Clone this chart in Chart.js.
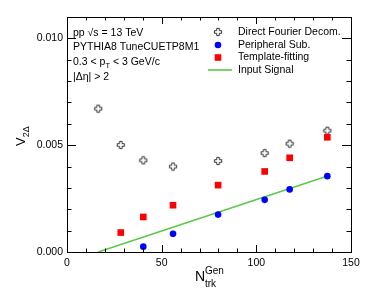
<!DOCTYPE html>
<html>
<head>
<meta charset="utf-8">
<script src="https://cdn.jsdelivr.net/npm/chart.js@4/dist/chart.umd.min.js"></script>
<style>
  html, body { margin: 0; padding: 0; background: #fff; }
  #wrap { width: 374px; height: 297px; }
</style>
</head>
<body>
<div id="wrap"><canvas id="c" width="374" height="297"></canvas></div>
<script>
// values
const nTrkDirect = [16.5, 28.4, 40.3, 56, 79.8, 104.4, 117.6, 137.5];
const v2Direct = [0.00671, 0.00501, 0.00429, 0.00400, 0.00426, 0.00463, 0.00507, 0.00568];
const nTrkPeriph = [40.3, 56, 79.8, 104.4, 117.6, 137.5];
const v2Periph = [0.00025, 0.00085, 0.00175, 0.00244, 0.00293, 0.00355];
const nTrkTemplate = [28.4, 40.3, 56, 79.8, 104.4, 117.6, 137.5];
const v2Template = [0.00091, 0.00164, 0.00219, 0.00313, 0.00377, 0.00441, 0.00537];
const nTrkInput = [16.5, 138];
const v2Input = [0.0, 0.00357];
const xTicks = [0, 50, 100, 150];
const yTicks = [0, 0.005, 0.010];
const legendLabels = ['Direct Fourier Decom.', 'Peripheral Sub.', 'Template-fitting', 'Input Signal'];

const FONT = "'Liberation Sans', Arial, Helvetica, sans-serif";

function toPoints(xs, ys) {
    return xs.map((x, i) => ({ x: x, y: ys[i] }));
}

function makeOpenCross() {
    const c = document.createElement('canvas');
    c.width = 10;
    c.height = 10;
    const g = c.getContext('2d');
    const m = 5, a = 1.3, l = 3.6;
    g.beginPath();
    g.moveTo(m - a, m - l);
    g.lineTo(m + a, m - l);
    g.lineTo(m + a, m - a);
    g.lineTo(m + l, m - a);
    g.lineTo(m + l, m + a);
    g.lineTo(m + a, m + a);
    g.lineTo(m + a, m + l);
    g.lineTo(m - a, m + l);
    g.lineTo(m - a, m + a);
    g.lineTo(m - l, m + a);
    g.lineTo(m - l, m - a);
    g.lineTo(m - a, m - a);
    g.closePath();
    g.strokeStyle = '#333';
    g.lineWidth = 1;
    g.stroke();
    return c;
}
const crossImg = makeOpenCross();

// text with sub/superscripts, parts: [text, size, dy]
function drawRich(ctx, parts, x, y) {
    let cx = x;
    parts.forEach(p => {
        ctx.font = p[1] + 'px ' + FONT;
        ctx.fillText(p[0], cx, y + (p[2] || 0));
        cx += ctx.measureText(p[0]).width;
    });
}

const framePlugin = {
    id: 'frame',
    afterDraw(chart) {
        const ctx = chart.ctx;
        const a = chart.chartArea;
        const xs = chart.scales.x, ys = chart.scales.y;
        ctx.save();
        ctx.strokeStyle = '#000';
        ctx.lineWidth = 1;
        ctx.strokeRect(Math.round(a.left) + 0.5, Math.round(a.top) + 0.5,
            Math.round(a.right - a.left), Math.round(a.bottom - a.top));

        // ticks inside, on all sides
        ctx.beginPath();
        for (let v = 0; v <= 150; v += 10) {
            const px = Math.round(xs.getPixelForValue(v)) + 0.5;
            const len = (v % 50 === 0) ? 7 : 3.5;
            ctx.moveTo(px, a.bottom);
            ctx.lineTo(px, a.bottom - len);
            ctx.moveTo(px, a.top);
            ctx.lineTo(px, a.top + len);
        }
        for (let k = 0; k <= 11; k++) {
            const py = Math.round(ys.getPixelForValue(k * 0.001)) + 0.5;
            const len = (k % 5 === 0) ? 9 : 4.5;
            ctx.moveTo(a.left, py);
            ctx.lineTo(a.left + len, py);
            ctx.moveTo(a.right, py);
            ctx.lineTo(a.right - len, py);
        }
        ctx.stroke();

        ctx.fillStyle = '#000';
        ctx.textBaseline = 'alphabetic';
        ctx.textAlign = 'left';

        // x title
        drawRich(ctx, [['N', 14, 0]], 195, 281);
        ctx.font = '10px ' + FONT;
        ctx.fillText('Gen', 205, 274);
        ctx.fillText('trk', 205, 287);

        // y title
        ctx.save();
        ctx.translate(25, 146);
        ctx.rotate(-Math.PI / 2);
        drawRich(ctx, [['V', 13, 0], ['2\u0394', 9, 4]], 0, 0);
        ctx.restore();

        // info text
        ctx.font = '10.5px ' + FONT;
        ctx.fillText('pp \u221As = 13 TeV', 73, 36);
        ctx.fillText('PYTHIA8 TuneCUETP8M1', 73, 50);
        drawRich(ctx, [['0.3 < p', 10.5, 0], ['T', 7.5, 3], [' < 3 GeV/c', 10.5, 0]], 73, 65);
        ctx.font = '10.5px ' + FONT;
        ctx.fillText('|\u0394\u03B7| > 2', 73, 80);

        // legend
        const rows = [32, 45, 57.5, 70];
        const mx = 218, tx = 238;
        ctx.drawImage(crossImg, mx - 5, rows[0] - 5);
        ctx.beginPath();
        ctx.arc(mx, rows[1], 3.3, 0, Math.PI * 2);
        ctx.fillStyle = '#0000ff';
        ctx.fill();
        ctx.fillStyle = '#ff0000';
        ctx.fillRect(mx - 3.3, rows[2] - 3.3, 6.6, 6.6);
        ctx.strokeStyle = '#5cc94a';
        ctx.lineWidth = 1.6;
        ctx.beginPath();
        ctx.moveTo(208, rows[3]);
        ctx.lineTo(232, rows[3]);
        ctx.stroke();
        ctx.fillStyle = '#000';
        ctx.font = '10.5px ' + FONT;
        ctx.textBaseline = 'middle';
        legendLabels.forEach((t, i) => ctx.fillText(t, tx, rows[i]));
        ctx.restore();
    }
};

const ctx = document.getElementById('c').getContext('2d');
new Chart(ctx, {
    type: 'scatter',
    data: {
        datasets: [
            {
                label: legendLabels[3],
                type: 'line',
                data: toPoints(nTrkInput, v2Input),
                borderColor: '#5cc94a',
                borderWidth: 1.6,
                pointRadius: 0,
                fill: false,
                order: 3
            },
            {
                label: legendLabels[0],
                data: toPoints(nTrkDirect, v2Direct),
                pointStyle: crossImg,
                pointRadius: 5,
                order: 2
            },
            {
                label: legendLabels[1],
                data: toPoints(nTrkPeriph, v2Periph),
                pointStyle: 'circle',
                pointRadius: 3.3,
                backgroundColor: '#0000ff',
                borderColor: '#0000ff',
                borderWidth: 0,
                order: 1
            },
            {
                label: legendLabels[2],
                data: toPoints(nTrkTemplate, v2Template),
                pointStyle: 'rect',
                pointRadius: 4.7,
                backgroundColor: '#ff0000',
                borderColor: '#ff0000',
                borderWidth: 0,
                order: 0
            }
        ]
    },
    options: {
        responsive: false,
        animation: false,
        devicePixelRatio: 1,
        layout: { padding: { top: 17, right: 23, left: 0, bottom: 0 } },
        plugins: {
            legend: { display: false },
            tooltip: { enabled: false }
        },
        scales: {
            x: {
                type: 'linear',
                min: 0,
                max: 150,
                grid: { display: false, drawTicks: false },
                border: { display: false },
                afterBuildTicks: s => { s.ticks = xTicks.map(v => ({ value: v })); },
                afterFit: s => { s.height = 45; },
                ticks: {
                    color: '#000',
                    padding: 5,
                    font: { family: FONT, size: 10.5 },
                    maxRotation: 0,
                    callback: v => String(v)
                }
            },
            y: {
                type: 'linear',
                min: 0,
                max: 0.011,
                grid: { display: false, drawTicks: false },
                border: { display: false },
                afterBuildTicks: s => { s.ticks = yTicks.map(v => ({ value: v })); },
                afterFit: s => { s.width = 67; },
                ticks: {
                    color: '#000',
                    padding: 4,
                    font: { family: FONT, size: 10.5 },
                    callback: v => v.toFixed(3)
                }
            }
        }
    },
    plugins: [framePlugin]
});
</script>
</body>
</html>
